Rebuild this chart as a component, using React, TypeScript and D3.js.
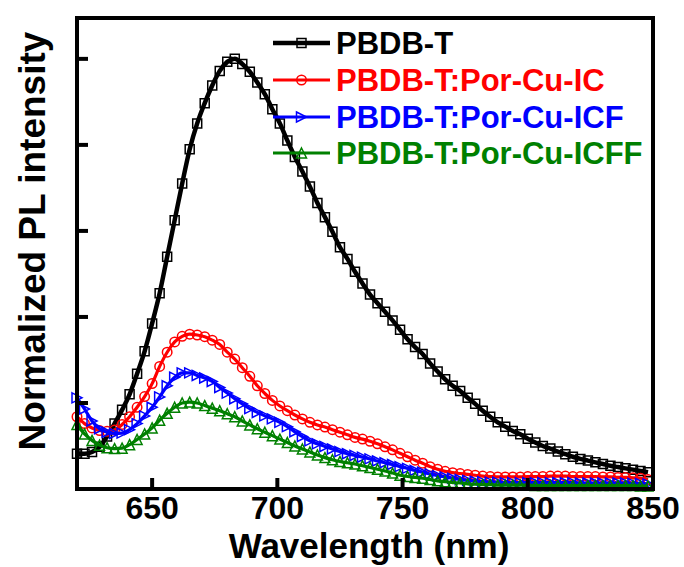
import React, { useEffect, useRef } from 'react';
import * as d3 from 'd3';

// wavelength grid (nm), 3 nm step
const wavelengths = d3.range(620, 849, 3);

const pbdbT = [
  0.082, 0.082, 0.086, 0.098, 0.122, 0.152, 0.184, 0.22, 0.268, 0.32,
  0.385, 0.455, 0.54, 0.625, 0.71, 0.79, 0.85, 0.897, 0.938, 0.972,
  0.993, 1.0, 0.988, 0.97, 0.945, 0.918, 0.883, 0.85, 0.81, 0.772,
  0.738, 0.703, 0.665, 0.632, 0.598, 0.562, 0.535, 0.505, 0.478, 0.452,
  0.432, 0.412, 0.392, 0.37, 0.348, 0.33, 0.314, 0.292, 0.273, 0.255,
  0.24, 0.228, 0.212, 0.198, 0.182, 0.168, 0.155, 0.145, 0.135, 0.127,
  0.117, 0.108, 0.1, 0.094, 0.087, 0.081, 0.075, 0.07, 0.066, 0.062,
  0.058, 0.054, 0.051, 0.048, 0.045, 0.042, 0.039,
];

const porCuIC = [
  0.168, 0.152, 0.142, 0.136, 0.134, 0.137, 0.15, 0.168, 0.19, 0.215,
  0.245, 0.285, 0.318, 0.342, 0.355, 0.36, 0.358, 0.354, 0.346, 0.336,
  0.318, 0.302, 0.282, 0.262, 0.24, 0.222, 0.206, 0.193, 0.182, 0.172,
  0.163, 0.155, 0.149, 0.144, 0.138, 0.132, 0.126, 0.12, 0.116, 0.111,
  0.105, 0.098, 0.091, 0.083, 0.075, 0.067, 0.06, 0.052, 0.046, 0.041,
  0.038, 0.036, 0.034, 0.032, 0.03, 0.029, 0.028, 0.028, 0.028, 0.028,
  0.029, 0.029, 0.029, 0.03, 0.03, 0.03, 0.029, 0.029, 0.029, 0.029,
  0.028, 0.028, 0.027, 0.027, 0.026, 0.025, 0.022,
];

const porCuICF = [
  0.212, 0.186, 0.158, 0.14, 0.132, 0.129, 0.13, 0.138, 0.152, 0.17,
  0.19, 0.214, 0.24, 0.26, 0.27, 0.27, 0.264, 0.258, 0.25, 0.236,
  0.223, 0.21, 0.198, 0.187, 0.178, 0.17, 0.163, 0.155, 0.145, 0.133,
  0.122, 0.112, 0.105, 0.099, 0.093, 0.087, 0.082, 0.078, 0.074, 0.07,
  0.065, 0.061, 0.057, 0.052, 0.048, 0.043, 0.039, 0.035, 0.031, 0.028,
  0.025, 0.022, 0.02, 0.018, 0.017, 0.016, 0.016, 0.015, 0.015, 0.015,
  0.015, 0.015, 0.015, 0.015, 0.015, 0.015, 0.015, 0.014, 0.014, 0.014,
  0.014, 0.014, 0.014, 0.014, 0.013, 0.013, 0.012,
];

const porCuICFF = [
  0.15, 0.128, 0.113, 0.102, 0.096, 0.094, 0.095, 0.103, 0.115, 0.128,
  0.142, 0.16, 0.176, 0.19, 0.2, 0.202, 0.2, 0.194, 0.188, 0.182,
  0.175, 0.168, 0.158, 0.149, 0.14, 0.132, 0.124, 0.116, 0.108, 0.1,
  0.093, 0.086, 0.079, 0.073, 0.068, 0.064, 0.061, 0.058, 0.054, 0.05,
  0.046, 0.042, 0.037, 0.032, 0.029, 0.027, 0.025, 0.022, 0.019, 0.017,
  0.015, 0.014, 0.012, 0.011, 0.01, 0.01, 0.009, 0.009, 0.009, 0.009,
  0.009, 0.008, 0.008, 0.008, 0.008, 0.008, 0.008, 0.008, 0.008, 0.008,
  0.008, 0.008, 0.008, 0.008, 0.008, 0.007, 0.007,
];

const seriesNames = ['PBDB-T', 'PBDB-T:Por-Cu-IC', 'PBDB-T:Por-Cu-ICF', 'PBDB-T:Por-Cu-ICFF'];
const seriesColors = ['#000000', '#ff0000', '#0000ff', '#008000'];
const seriesMarkers = ['square', 'circle', 'right', 'up'];
const seriesValues = [pbdbT, porCuIC, porCuICF, porCuICFF];

const xTicks = [650, 700, 750, 800, 850];
const yTicks = [0.2, 0.4, 0.6, 0.8, 1.0];

const FONT = '"Liberation Sans", Arial, Helvetica, sans-serif';

// marker path centered on 0,0
const markerPath = (type: string, s: number) => {
  const h = s / 2;
  if (type === 'square') return `M${-h},${-h}H${h}V${h}H${-h}Z`;
  if (type === 'right') return `M${-h},${-h}L${h},0L${-h},${h}Z`;
  if (type === 'up') return `M0,${-h}L${h},${h}L${-h},${h}Z`;
  return d3.symbol(d3.symbolCircle, (s * s * Math.PI) / 4)() as string;
};
const markerSize = [9, 9.5, 10, 10];

const App = () => {
  const svgRef = useRef<SVGSVGElement>(null);

  useEffect(() => {
    const svg = d3.select(svgRef.current);
    svg.selectAll('*').remove();

    const left = 77, right = 653, top = 18, bottom = 489;

    const x = d3.scaleLinear().domain([620, 850]).range([left, right]);
    const y = d3.scaleLinear().domain([0, 1.095]).range([bottom, top]);

    // curves
    seriesValues.forEach((vals, i) => {
      const pts = wavelengths.map((w, j) => [w, vals[j]] as [number, number]);
      const line = d3.line<[number, number]>()
        .x(d => x(d[0]))
        .y(d => y(d[1]))
        .curve(d3.curveMonotoneX);

      const g = svg.append('g');
      g.append('path')
        .attr('d', line(pts))
        .attr('fill', 'none')
        .attr('stroke', seriesColors[i])
        .attr('stroke-width', i === 0 ? 4.5 : 3.2)
        .attr('stroke-linejoin', 'round');

      g.selectAll('path.mk')
        .data(pts)
        .enter()
        .append('path')
        .attr('class', 'mk')
        .attr('d', markerPath(seriesMarkers[i], markerSize[i]))
        .attr('transform', d => `translate(${x(d[0])},${y(d[1])})`)
        .attr('fill', 'none')
        .attr('stroke', seriesColors[i])
        .attr('stroke-width', 1.5);
    });

    // frame
    svg.append('rect')
      .attr('x', left).attr('y', top)
      .attr('width', right - left).attr('height', bottom - top)
      .attr('fill', 'none')
      .attr('stroke', '#000')
      .attr('stroke-width', 4);

    // bottom ticks (inward)
    svg.selectAll('line.xt')
      .data(xTicks)
      .enter()
      .append('line')
      .attr('x1', d => x(d)).attr('x2', d => x(d))
      .attr('y1', bottom).attr('y2', bottom - 11)
      .attr('stroke', '#000')
      .attr('stroke-width', 4);

    svg.selectAll('text.xl')
      .data(xTicks)
      .enter()
      .append('text')
      .attr('x', d => x(d))
      .attr('y', 519)
      .attr('text-anchor', 'middle')
      .style('font-family', FONT)
      .style('font-weight', 'bold')
      .style('font-size', '32px')
      .text(d => d);

    // left ticks (inward), no labels
    svg.selectAll('line.yt')
      .data(yTicks)
      .enter()
      .append('line')
      .attr('x1', left).attr('x2', left + 11)
      .attr('y1', d => y(d)).attr('y2', d => y(d))
      .attr('stroke', '#000')
      .attr('stroke-width', 4);

    // axis titles
    svg.append('text')
      .attr('x', (left + right) / 2 + 4)
      .attr('y', 558)
      .attr('text-anchor', 'middle')
      .style('font-family', FONT)
      .style('font-weight', 'bold')
      .style('font-size', '35px')
      .text('Wavelength (nm)');

    svg.append('text')
      .attr('transform', 'translate(45,241) rotate(-90)')
      .attr('text-anchor', 'middle')
      .style('font-family', FONT)
      .style('font-weight', 'bold')
      .style('font-size', '37px')
      .text('Normalized PL intensity');

    // legend
    const legend = svg.append('g');
    const rowY = [43, 80, 117, 153];
    seriesNames.forEach((name, i) => {
      legend.append('line')
        .attr('x1', 273).attr('x2', 330)
        .attr('y1', rowY[i]).attr('y2', rowY[i])
        .attr('stroke', seriesColors[i])
        .attr('stroke-width', i === 0 ? 4.5 : 3.2);
      legend.append('path')
        .attr('d', markerPath(seriesMarkers[i], markerSize[i]))
        .attr('transform', `translate(301.5,${rowY[i]})`)
        .attr('fill', 'none')
        .attr('stroke', seriesColors[i])
        .attr('stroke-width', 1.5);
      legend.append('text')
        .attr('x', 336)
        .attr('y', rowY[i] + 11)
        .attr('fill', seriesColors[i])
        .style('font-family', FONT)
        .style('font-weight', 'bold')
        .style('font-size', '31px')
        .text(name);
    });
  }, []);

  return (
    <svg
      ref={svgRef}
      width={684}
      height={567}
      viewBox="0 0 684 567"
      style={{ position: 'absolute', left: 0, top: 0, background: '#fff' }}
    />
  );
};

export default App;
